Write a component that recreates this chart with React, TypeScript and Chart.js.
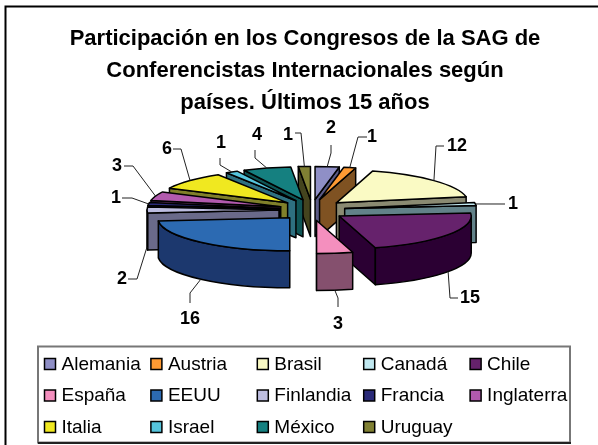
import React, { useEffect, useRef } from "react";
import { Chart, registerables } from "chart.js";

Chart.register(...registerables);

const categories = ["Alemania","Austria","Brasil","Canadá","Chile","España","EEUU","Finlandia","Francia","Inglaterra","Italia","Israel","México","Uruguay"];
const participantes = [2,1,12,1,15,3,16,2,1,3,6,1,4,1];
const titleLines = ["Participación en los Congresos de la SAG de","Conferencistas Internacionales según","países. Últimos 15 años"];

const topColors = ["#8F8FC6","#FF9A33","#FAFAC4","#C0E8F0","#66226C","#F48FBE","#2C6AB2","#BDBDE0","#2A2A78","#B25AAE","#F0E820","#55C4DC","#158080","#808033"];
const wallColors = ["#5A5A85","#7F5222","#8A8A72","#628289","#2B0033","#85506E","#1C386E","#6A6A8A","#1A1A55","#6A3568","#80802A","#2E7080","#0F5555","#44441E"];

// leader elbows / ends and label centres, in page pixels
const leaderLayout: number[][] = [
  [331,153,331,145,331,128],
  [358,137,367,137,372,137],
  [436,146,444,146,457,146],
  [505,204,505,204,513,204],
  [450,298,458,298,470,298],
  [338,298,338,307,338,324],
  [190,293,190,303,190,319],
  [137,279,128,279,122,279],
  [132,198,122,198,116,198],
  [133,166,124,166,117,166],
  [181,149,173,149,167,149],
  [220,165,220,158,221,143],
  [255,158,255,150,257,135],
  [301,133,295,133,288,135],
];

const FONT = "'Liberation Sans', Arial, sans-serif";
const PIE_X = 312, PIE_Y = 210, SQUASH = 0.25, DEPTH = 37, EXPLODE_X = 33, EXPLODE_Y = 10.6;

const pie3d = {
  id: "pie3d",
  beforeDraw(chart: any) {
    const c = chart.ctx;
    c.save();
    c.fillStyle = "#fff";
    c.fillRect(0, 0, 598, 445);
    c.strokeStyle = "#000";
    c.lineWidth = 2;
    c.beginPath();
    c.moveTo(5.5, 445);
    c.lineTo(5.5, 6.5);
    c.lineTo(598, 6.5);
    c.stroke();
    c.restore();
  },
  beforeDatasetDraw(chart: any) {
    const c = chart.ctx;
    const arcs = chart.getDatasetMeta(0).data;
    const geo = arcs.map((arc: any, i: number) => {
      const { startAngle, endAngle, outerRadius } = arc.getProps(["startAngle","endAngle","outerRadius"], true);
      const mid = (startAngle + endAngle) / 2;
      return { i, a0: startAngle, a1: endAngle, mid, rx: outerRadius, ry: outerRadius * SQUASH,
        x: PIE_X + Math.cos(mid) * EXPLODE_X, y: PIE_Y + Math.sin(mid) * EXPLODE_Y };
    });
    c.save();
    c.lineJoin = "round";
    c.strokeStyle = "#000";
    c.lineWidth = 1.5;
    const order = [...geo].sort((p: any, q: any) => Math.sin(p.mid) - Math.sin(q.mid));
    for (const g of order) {
      const rim = (a: number) => [g.x + g.rx * Math.cos(a), g.y + g.ry * Math.sin(a)];
      c.fillStyle = wallColors[g.i];
      const wall = (a: number) => {
        const [px, py] = rim(a);
        c.beginPath();
        c.moveTo(g.x, g.y);
        c.lineTo(px, py);
        c.lineTo(px, py + DEPTH);
        c.lineTo(g.x, g.y + DEPTH);
        c.closePath();
        c.fill();
        c.stroke();
      };
      if (Math.cos(g.a0) < 0) wall(g.a0);
      if (Math.cos(g.a1) > 0) wall(g.a1);
      const lo = Math.max(g.a0, 0), hi = Math.min(g.a1, Math.PI);
      if (hi > lo) {
        c.beginPath();
        c.ellipse(g.x, g.y, g.rx, g.ry, 0, lo, hi);
        c.ellipse(g.x, g.y + DEPTH, g.rx, g.ry, 0, hi, lo, true);
        c.closePath();
        c.fill();
        c.stroke();
      }
      c.fillStyle = topColors[g.i];
      c.beginPath();
      c.moveTo(g.x, g.y);
      c.ellipse(g.x, g.y, g.rx, g.ry, 0, g.a0, g.a1);
      c.closePath();
      c.fill();
      c.stroke();
    }
    // leaders and value labels
    c.font = `bold 18px ${FONT}`;
    c.textAlign = "center";
    c.textBaseline = "middle";
    for (const g of geo) {
      const [ex, ey, fx, fy, lx, ly] = leaderLayout[g.i];
      const sin = Math.sin(g.mid);
      const sx = g.x + g.rx * Math.cos(g.mid);
      const sy = g.y + g.ry * sin + (sin > 0 ? DEPTH : 0);
      c.strokeStyle = "#222";
      c.lineWidth = 1;
      c.beginPath();
      c.moveTo(sx, sy);
      c.lineTo(ex, ey);
      c.lineTo(fx, fy);
      c.stroke();
      c.fillStyle = "#000";
      c.fillText(String(participantes[g.i]), lx, ly);
    }
    c.restore();
    return false;
  },
  afterDraw(chart: any) {
    const c = chart.ctx;
    c.save();
    c.fillStyle = "#fff";
    c.fillRect(37, 346, 533, 96);
    c.strokeStyle = "#777";
    c.lineWidth = 2;
    c.strokeRect(38, 346.5, 532, 96);
    c.strokeStyle = "#222";
    c.beginPath();
    c.moveTo(38, 443);
    c.lineTo(571, 443);
    c.stroke();
    c.font = `19px ${FONT}`;
    c.textAlign = "left";
    c.textBaseline = "middle";
    categories.forEach((name, i) => {
      const col = i % 5, row = Math.floor(i / 5);
      const x = 44.5 + col * 106.4, y = 364 + row * 31.5;
      c.fillStyle = topColors[i];
      c.fillRect(x, y - 5.5, 11, 11);
      c.strokeStyle = "#000";
      c.lineWidth = 1.5;
      c.strokeRect(x, y - 5.5, 11, 11);
      c.fillStyle = "#000";
      c.fillText(name, x + 17, y + 0.5);
    });
    c.restore();
  },
};

export default function App() {
  const ref = useRef<HTMLCanvasElement>(null);
  useEffect(() => {
    const chart = new Chart(ref.current!, {
      type: "pie",
      data: { labels: categories, datasets: [{ data: participantes, backgroundColor: topColors, radius: 132 }] },
      options: {
        responsive: false,
        animation: false,
        layout: { padding: { left: 12, right: 0, top: 0, bottom: 0 } },
        plugins: {
          legend: { display: false },
          tooltip: { enabled: false },
          title: {
            display: true,
            text: titleLines,
            color: "#000",
            font: { family: FONT, size: 22, weight: "bold", lineHeight: 1.45 },
            padding: { top: 23, bottom: 4 },
          },
        },
      },
      plugins: [pie3d],
    });
    return () => chart.destroy();
  }, []);
  return (
    <div style={{ position: "absolute", left: 0, top: 0, width: 598, height: 445, background: "#fff" }}>
      <canvas ref={ref} width={598} height={445} style={{ display: "block" }} />
    </div>
  );
}
